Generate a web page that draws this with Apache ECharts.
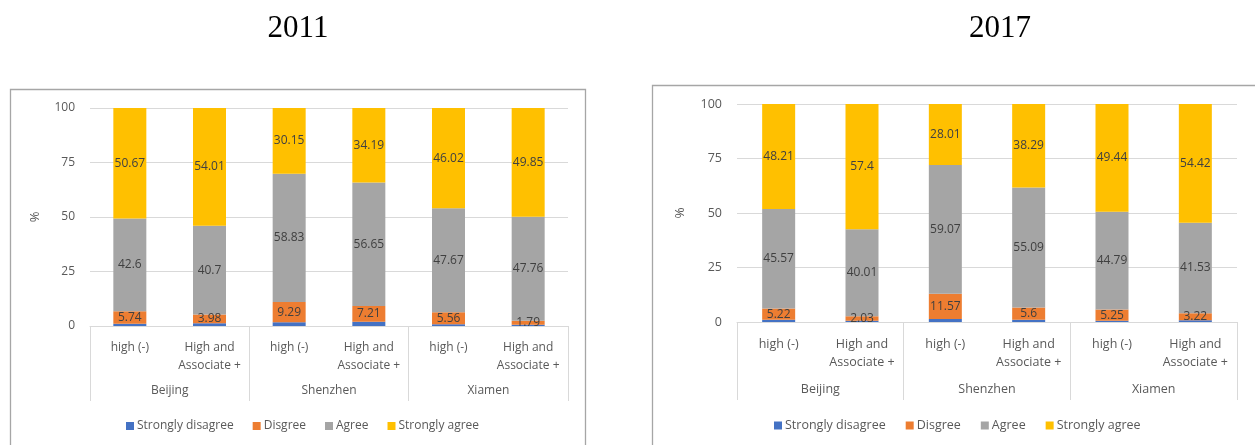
<!DOCTYPE html>
<html>
<head>
<meta charset="utf-8">
<script src="https://cdn.jsdelivr.net/npm/echarts@6/dist/echarts.min.js"></script>
<style>
  html, body { margin: 0; padding: 0; background: #ffffff; }
  #chart { width: 1255px; height: 445px; }
</style>
</head>
<body>
<div id="chart"></div>
<script>
// Education groups within each city, and the cities themselves
const groups = ['high (-)', 'High and\nAssociate +', 'high (-)', 'High and\nAssociate +', 'high (-)', 'High and\nAssociate +'];
const cities = ['Beijing', 'Shenzhen', 'Xiamen'];
const seriesNames = ['Strongly disagree', 'Disgree', 'Agree', 'Strongly agree'];
const yTicks = [0, 25, 50, 75, 100];

// 2011 shares (%)
const stronglyDisagree2011 = [0.99, 1.31, 1.73, 1.95, 0.75, 0.60];
const disagree2011 = [5.74, 3.98, 9.29, 7.21, 5.56, 1.79];
const agree2011 = [42.6, 40.7, 58.83, 56.65, 47.67, 47.76];
const stronglyAgree2011 = [50.67, 54.01, 30.15, 34.19, 46.02, 49.85];

// 2017 shares (%)
const stronglyDisagree2017 = [1.00, 0.56, 1.35, 1.02, 0.52, 0.83];
const disagree2017 = [5.22, 2.03, 11.57, 5.6, 5.25, 3.22];
const agree2017 = [45.57, 40.01, 59.07, 55.09, 44.79, 41.53];
const stronglyAgree2017 = [48.21, 57.4, 28.01, 38.29, 49.44, 54.42];

const colors = ['#4472C4', '#ED7D31', '#A5A5A5', '#FFC000'];
const FONT = 'Open Sans';
const gridLine = '#D9D9D9';

const chart = echarts.init(document.getElementById('chart'), null, { renderer: 'canvas' });

function yAxisFor(gridIndex, nameGap, fs) {
  return {
    type: 'value', gridIndex: gridIndex,
    min: yTicks[0], max: yTicks[yTicks.length - 1], interval: 25,
    name: '%', nameLocation: 'middle', nameGap: nameGap, nameRotate: 90,
    nameTextStyle: { color: '#595959', fontFamily: FONT, fontSize: fs + 1 },
    axisLine: { show: false }, axisTick: { show: false },
    axisLabel: { color: '#595959', fontFamily: FONT, fontSize: fs, margin: 15 },
    splitLine: { lineStyle: { color: gridLine, width: 1 } }
  };
}

function innerAxis(gridIndex, margin, fs) {
  return {
    type: 'category', gridIndex: gridIndex, data: groups, position: 'bottom',
    axisLine: { lineStyle: { color: gridLine, width: 1 } },
    axisTick: { show: false },
    axisLabel: { color: '#595959', fontFamily: FONT, fontSize: fs, lineHeight: 18, margin: margin, interval: 0 }
  };
}

function cityAxis(gridIndex, labelMargin, tickLen, fs) {
  return {
    type: 'category', gridIndex: gridIndex, data: cities, position: 'bottom',
    axisLine: { show: false },
    axisTick: { show: true, length: tickLen, lineStyle: { color: gridLine, width: 1 } },
    axisLabel: { color: '#595959', fontFamily: FONT, fontSize: fs, margin: labelMargin, interval: 0 }
  };
}

function barSeries(xIdx, yIdx, values) {
  return values.map(function (vals, i) {
    return {
      name: seriesNames[i], type: 'bar', stack: 'total' + xIdx,
      xAxisIndex: xIdx, yAxisIndex: yIdx, barWidth: 33,
      itemStyle: { color: colors[i] },
      label: {
        show: i > 0, position: 'inside', color: '#404040',
        fontFamily: FONT, fontSize: 12,
        formatter: function (p) { return String(p.value); }
      },
      emphasis: { disabled: true },
      data: vals
    };
  });
}

function legendFor(left, top, fs, gap) {
  return {
    data: seriesNames, left: left, top: top,
    icon: 'rect', itemWidth: 8, itemHeight: 8, itemGap: gap,
    textStyle: { color: '#595959', fontFamily: FONT, fontSize: fs, padding: [0, 0, 0, -2] },
    selectedMode: false
  };
}

const option = {
  animation: false,
  backgroundColor: '#ffffff',
  title: [
    { text: '2011', left: 293, top: 8, textAlign: 'center',
      textStyle: { fontFamily: 'Liberation Serif', fontSize: 31, fontWeight: 'normal', color: '#000000' } },
    { text: '2017', left: 995, top: 8, textAlign: 'center',
      textStyle: { fontFamily: 'Liberation Serif', fontSize: 31, fontWeight: 'normal', color: '#000000' } }
  ],
  legend: [legendFor(121, 415, 12, 19), legendFor(769, 414, 12.5, 20)],
  grid: [
    { left: 90, top: 108, width: 478, height: 218 },
    { left: 737, top: 104, width: 500, height: 218 }
  ],
  xAxis: [
    innerAxis(0, 13, 12), cityAxis(0, 59, 75, 12),
    innerAxis(1, 13, 12.5), cityAxis(1, 61, 78, 12.5)
  ],
  yAxis: [yAxisFor(0, 48, 12), yAxisFor(1, 50, 12.5)],
  series: [].concat(
    barSeries(0, 0, [stronglyDisagree2011, disagree2011, agree2011, stronglyAgree2011]),
    barSeries(2, 1, [stronglyDisagree2017, disagree2017, agree2017, stronglyAgree2017])
  ),
  graphic: [
    { type: 'rect', silent: true, z: -1,
      shape: { x: 10.5, y: 89.5, width: 575, height: 400 },
      style: { fill: null, stroke: '#A6A6A6', lineWidth: 1.3 } },
    { type: 'rect', silent: true, z: -1,
      shape: { x: 652.5, y: 85.5, width: 700, height: 400 },
      style: { fill: null, stroke: '#A6A6A6', lineWidth: 1.3 } }
  ]
};

chart.setOption(option);
</script>
</body>
</html>
